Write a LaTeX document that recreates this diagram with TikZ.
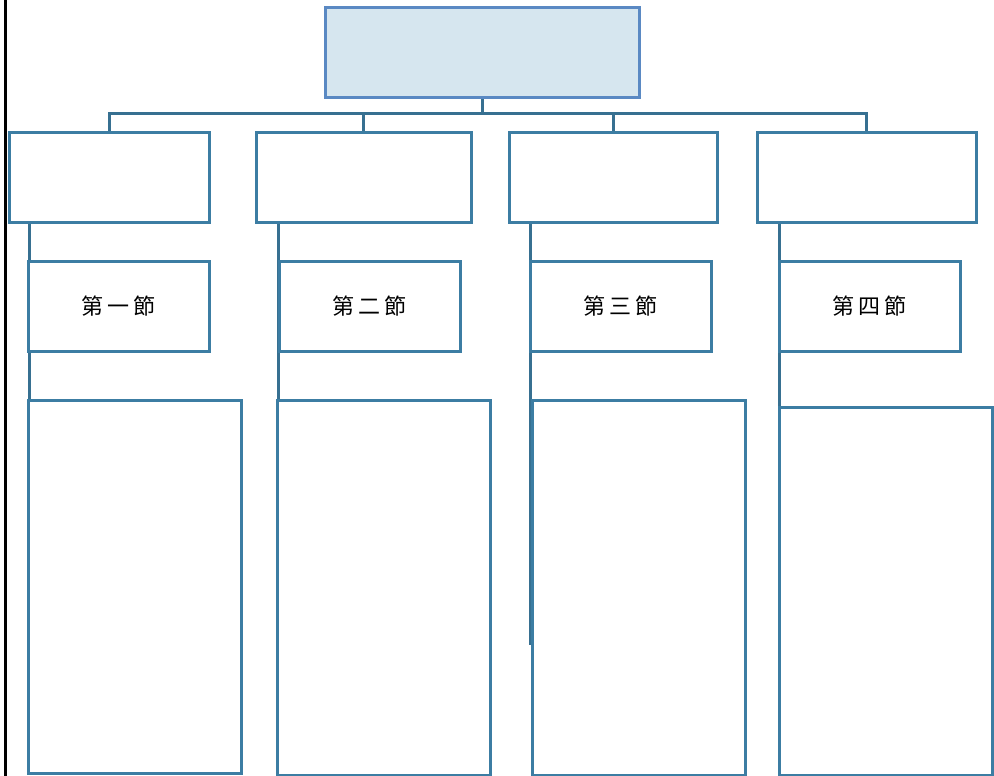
\documentclass[tikz,border=0pt]{standalone}
\usepackage{fontspec}
\usepackage{tikz}
\usetikzlibrary{positioning,calc}
\newfontfamily\cjk[LetterSpace=18]{Noto Sans CJK TC}
\definecolor{chartBlue}{RGB}{60,125,163}
\definecolor{lineBlue}{RGB}{55,112,145}
\definecolor{topBlue}{RGB}{90,137,195}
\definecolor{topFill}{RGB}{214,230,239}

\begin{document}
\begin{tikzpicture}[
x=1pt, y=-1pt,
block/.style={draw=chartBlue, line width=3pt, fill=white, inner sep=0pt, minimum height=90pt, font=\cjk\fontsize{22pt}{24pt}\selectfont},
topblock/.style={block, draw=topBlue, fill=topFill, minimum width=314pt},
chapter/.style={block, minimum width=#1},
section/.style={block, minimum width=181pt},
bigblock/.style={block, minimum width=213pt, minimum height=#1},
conn/.style={draw=lineBlue, line width=3pt}
]
\useasboundingbox (0,0) rectangle (994,776);
\draw[line width=3pt] (5,0) -- (5,776);

\node[topblock] (top) at (482,53) {};

\node[chapter=200pt] (ch1) at (109,177) {};
\node[chapter=215pt] (ch2) at (363.5,177) {};
\node[chapter=208pt] (ch3) at (613,177) {};
\node[chapter=219pt] (ch4) at (866.5,177) {};

\coordinate (bus) at (482,113);
\draw[conn] (top.south) -- (bus);
\draw[conn] (ch1.north) |- (ch4.north |- bus) -- (ch4.north);
\draw[conn] (ch2.north) -- (ch2.north |- bus);
\draw[conn] (ch3.north) -- (ch3.north |- bus);

% side lines
\coordinate (end1) at (29,400);
\coordinate (end2) at (278,400);
\coordinate (end3) at (530,645);
\coordinate (end4) at (779,662);
\draw[conn] (end1 |- ch1.south) -- (end1);
\draw[conn] (end2 |- ch2.south) -- (end2);
\draw[conn] (end3 |- ch3.south) -- (end3);
\draw[conn] (end4 |- ch4.south) -- (end4);

\node[section] (sec1) at (118.5,306) {第一節};
\node[section] (sec2) at (369.5,306) {第二節};
\node[section] (sec3) at (620.5,306) {第三節};
\node[section] (sec4) at (869.5,306) {第四節};

\node[bigblock=373pt] (big1) at (134.5,586.5) {};
\node[bigblock=375pt] (big2) at (383.5,587.5) {};
\node[bigblock=375pt] (big3) at (638.5,587.5) {};
\node[bigblock=368pt] (big4) at (885.5,591) {};
\end{tikzpicture}
\end{document}
